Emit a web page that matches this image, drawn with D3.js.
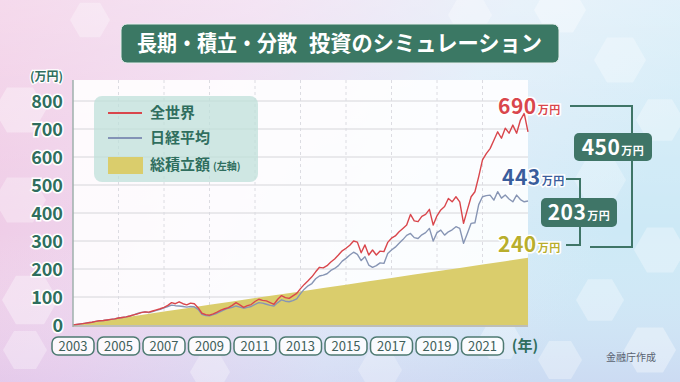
<!DOCTYPE html>
<html><head><meta charset="utf-8">
<script src="https://cdn.jsdelivr.net/npm/d3@7"></script>
<style>body{margin:0;background:#fff;} svg{display:block;}</style>
</head><body><svg id="c" width="680" height="382"></svg>
<script>
// ---- data ----
const startYear = 2003;
const stepsPerYear = 6; // one value every two months
const worldValues = [0,2,4,6,8,10,13,15,16,18,20,22,25,27,29,32,36,40,44,47,46,50,54,58,
  63,70,80,76,83,76,72,78,76,62,42,37,35,40,46,53,58,62,70,80,72,63,69,73,
  84,92,88,86,80,74,92,105,98,95,104,113,130,145,158,172,190,206,204,212,225,236,250,265,
  274,285,300,296,258,286,250,268,250,264,262,295,310,318,333,345,357,395,372,369,388,395,413,357,
  390,411,423,452,440,458,440,363,411,458,476,530,590,612,630,660,690,667,703,685,714,685,732,756,690];
const nikkeiValues = [0,2,4,6,8,10,13,15,16,18,20,22,25,27,29,32,36,41,45,47,44,48,52,56,
  61,66,71,69,68,66,64,66,65,56,38,34,33,37,42,49,55,60,63,68,64,60,63,66,
  74,80,78,74,70,68,80,90,85,83,87,93,112,128,140,148,165,175,178,183,195,202,212,228,
  238,250,260,252,230,244,214,206,212,222,220,255,268,278,292,305,320,327,312,309,322,330,345,300,
  330,339,321,333,340,351,345,292,327,363,365,430,458,462,464,446,476,453,464,450,440,464,448,440,443];
const contribYears = [2003,2004,2005,2006,2007,2008,2009,2010,2011,2012,2013,2014,2015,2016,2017,2018,2019,2020,2021,2022,2023];
const contribValues = [0,12,24,36,48,60,72,84,96,108,120,132,144,156,168,180,192,204,216,228,240];
const yTicks = [0,100,200,300,400,500,600,700,800];
const xTickYears = [2003,2005,2007,2009,2011,2013,2015,2017,2019,2021];
const seriesNames = ["全世界","日経平均","総積立額"];
const finalValues = ["690","443","240"];
const diffValues = ["450","203"];

// ---- setup ----
const svg = d3.select("#c");
const W = 680, H = 382;
const FONT = "'Noto Sans CJK JP','Noto Sans',sans-serif";
const x = d3.scaleLinear().domain([2003, 2023]).range([73, 528]);
const y = d3.scaleLinear().domain([0, 800]).range([325, 101]);
const tOf = i => startYear + i / stepsPerYear;

const defs = svg.append("defs");
const bg = defs.append("linearGradient").attr("id","bg").attr("x1","0").attr("y1","0").attr("x2","1").attr("y2","0.3");
bg.append("stop").attr("offset","0").attr("stop-color","#f0c6e2");
bg.append("stop").attr("offset","0.35").attr("stop-color","#eed6ee");
bg.append("stop").attr("offset","0.7").attr("stop-color","#dcebf8");
bg.append("stop").attr("offset","1").attr("stop-color","#cde9f6");
const bg2 = defs.append("linearGradient").attr("id","bg2").attr("x1","0").attr("y1","0").attr("x2","0").attr("y2","1");
bg2.append("stop").attr("offset","0").attr("stop-color","#ffffff").attr("stop-opacity",0.35);
bg2.append("stop").attr("offset","0.6").attr("stop-color","#ffffff").attr("stop-opacity",0);
bg2.append("stop").attr("offset","1").attr("stop-color","#c8b0e8").attr("stop-opacity",0.25);

svg.append("rect").attr("width",W).attr("height",H).attr("fill","url(#bg)");
svg.append("rect").attr("width",W).attr("height",H).attr("fill","url(#bg2)");

// decorative hexagons
const hex = (cx, cy, r) => {
  const pts = d3.range(6).map(k => [cx + r*Math.cos(Math.PI/3*k), cy + r*Math.sin(Math.PI/3*k)]);
  return d3.line()(pts) + "Z";
};
const hexes = [[20,110,26,0.35],[20,200,26,0.3],[30,300,28,0.35],[25,350,22,0.3],[560,10,26,0.35],[620,60,26,0.3],
  [660,120,24,0.3],[600,180,26,0.25],[660,250,26,0.3],[600,300,24,0.3],[650,350,26,0.35],[560,360,22,0.3],
  [470,15,22,0.3],[380,370,22,0.25],[90,20,20,0.3],[500,340,22,0.3],[210,372,20,0.3]];
svg.append("g").selectAll("path").data(hexes).join("path")
  .attr("d", d => hex(d[0], d[1], d[2])).attr("fill","#ffffff").attr("opacity", d => d[3]);

// plot panel
svg.append("rect").attr("x",73).attr("y",80).attr("width",455).attr("height",247)
  .attr("fill","#ffffff").attr("opacity",0.88);

// grid
svg.append("g").selectAll("line").data(yTicks.slice(1)).join("line")
  .attr("x1",73).attr("x2",528).attr("y1",d=>y(d)).attr("y2",d=>y(d))
  .attr("stroke","#d6d6da").attr("stroke-width",1);
svg.append("g").selectAll("line").data(xTickYears.slice(1)).join("line")
  .attr("x1",d=>x(d)).attr("x2",d=>x(d)).attr("y1",80).attr("y2",325)
  .attr("stroke","#dcdce2").attr("stroke-width",1).attr("stroke-dasharray","3,3");

// contributions area
const contrib = contribYears.map((t,i)=>({t, v: contribValues[i]}));
svg.append("path").datum(contrib)
  .attr("d", d3.area().x(d=>x(d.t)).y0(y(0)).y1(d=>y(d.v)))
  .attr("fill","#dacd6c");

// lines
const lineGen = d3.line().x((d,i)=>x(tOf(i))).y(d=>y(d));
svg.append("path").datum(nikkeiValues).attr("d",lineGen)
  .attr("fill","none").attr("stroke","#8795b4").attr("stroke-width",1.4).attr("stroke-linejoin","round");
svg.append("path").datum(worldValues).attr("d",lineGen)
  .attr("fill","none").attr("stroke","#d9464c").attr("stroke-width",1.4).attr("stroke-linejoin","round");

// axes lines
svg.append("line").attr("x1",73).attr("x2",73).attr("y1",80).attr("y2",327).attr("stroke","#9fb0ac").attr("stroke-width",1.5);
svg.append("line").attr("x1",73).attr("x2",528).attr("y1",326).attr("y2",326).attr("stroke","#a8aaa0").attr("stroke-width",1.5);

// y axis labels
const yAxis = d3.axisLeft(y).tickValues(yTicks).tickSize(0).tickPadding(0);
const yg = svg.append("g").attr("transform","translate(63,0)").call(yAxis);
yg.select(".domain").remove();
yg.selectAll("text").attr("font-family",FONT).attr("font-weight",700).attr("font-size",18)
  .attr("fill","#2f6e5e").attr("stroke","#ffffff").attr("stroke-width",3).attr("paint-order","stroke")
  .attr("text-anchor","end").attr("dy","0.36em");
svg.append("text").attr("x",63).attr("y",81).attr("text-anchor","end").attr("font-family",FONT)
  .attr("font-weight",700).attr("font-size",12).attr("fill","#2f6e5e")
  .attr("stroke","#ffffff").attr("stroke-width",2.5).attr("paint-order","stroke").text("(万円)");

// x axis boxed labels
const xg = svg.append("g").selectAll("g").data(xTickYears).join("g")
  .attr("transform", d => `translate(${x(d)},346)`);
xg.append("rect").attr("x",-21).attr("y",-9).attr("width",42).attr("height",18).attr("rx",6)
  .attr("fill","#ffffff").attr("fill-opacity",0.85).attr("stroke","#4e7a72").attr("stroke-width",1.5);
xg.append("text").attr("text-anchor","middle").attr("dy","0.36em").attr("font-family",FONT)
  .attr("font-size",13).attr("fill","#3f5f5a").text(d=>d);
svg.append("text").attr("x",525).attr("y",346).attr("dy","0.36em").attr("text-anchor","middle")
  .attr("font-family",FONT).attr("font-weight",700).attr("font-size",15).attr("fill","#2f6e5e").text("(年)");
svg.append("text").attr("x",631).attr("y",361).attr("text-anchor","middle")
  .attr("font-family",FONT).attr("font-size",10).attr("fill","#5a6270").text("金融庁作成");

// legend
const lg = svg.append("g");
lg.append("rect").attr("x",94).attr("y",96).attr("width",164).attr("height",86).attr("rx",8)
  .attr("fill","#bfe0da").attr("opacity",0.75);
const legY = [113, 138, 165];
lg.append("line").attr("x1",108).attr("x2",142).attr("y1",legY[0]).attr("y2",legY[0]).attr("stroke","#d9464c").attr("stroke-width",2);
lg.append("line").attr("x1",108).attr("x2",142).attr("y1",legY[1]).attr("y2",legY[1]).attr("stroke","#8393b6").attr("stroke-width",2);
lg.append("rect").attr("x",108).attr("y",157).attr("width",35).attr("height",17).attr("fill","#dacd6c");
seriesNames.forEach((n,i)=>{
  const t = lg.append("text").attr("x",150).attr("y",legY[i]).attr("dy","0.36em")
    .attr("font-family",FONT).attr("font-weight",700).attr("font-size",15).attr("fill","#2f6e5e").text(n);
  if(i===2) t.append("tspan").attr("font-size",10).attr("dx",3).text("(左軸)");
});

// end labels
const endColors = ["#d9464c","#3a5d9c","#b8ae2c"];
const endPos = [[498,114],[502,185],[498,252]];
finalValues.forEach((v,i)=>{
  const t = svg.append("text").attr("x",endPos[i][0]).attr("y",endPos[i][1])
    .attr("font-family",FONT).attr("font-weight",700).attr("font-size",21).attr("fill",endColors[i])
    .attr("stroke","#ffffff").attr("stroke-width",3).attr("paint-order","stroke").attr("letter-spacing",0.5).text(v);
  t.append("tspan").attr("font-size",11).attr("dx",1).text("万円");
});

// brackets
const bc = "#3f7567";
svg.append("path").attr("d","M570,106H632V247H590").attr("fill","none").attr("stroke",bc).attr("stroke-width",2);
svg.append("path").attr("d","M566,179H580V245H566").attr("fill","none").attr("stroke",bc).attr("stroke-width",2);
const boxes = [[574,133,78,28],[541,198,76,29]];
diffValues.forEach((v,i)=>{
  const b = boxes[i];
  svg.append("rect").attr("x",b[0]).attr("y",b[1]).attr("width",b[2]).attr("height",b[3]).attr("rx",5).attr("fill","#3f7567");
  const t = svg.append("text").attr("x",b[0]+b[2]/2).attr("y",b[1]+b[3]/2).attr("dy","0.36em").attr("text-anchor","middle")
    .attr("font-family",FONT).attr("font-weight",700).attr("font-size",21).attr("fill","#ffffff").attr("letter-spacing",0.5).text(v);
  t.append("tspan").attr("font-size",11).attr("dx",1).text("万円");
});

// title
svg.append("rect").attr("x",121).attr("y",24).attr("width",438).attr("height",39).attr("rx",6)
  .attr("fill","#3b7864").attr("stroke","#e8f0ee").attr("stroke-width",1);
const titleParts = [["長期・積立・分散",137,160],["投資のシミュレーション",309,233]];
titleParts.forEach(p=>{
  svg.append("text").attr("x",p[1]).attr("y",43.5).attr("dy","0.36em")
    .attr("font-family",FONT).attr("font-weight",700).attr("font-size",22).attr("fill","#ffffff")
    .attr("textLength",p[2]).attr("lengthAdjust","spacingAndGlyphs").text(p[0]);
});
</script></body></html>
